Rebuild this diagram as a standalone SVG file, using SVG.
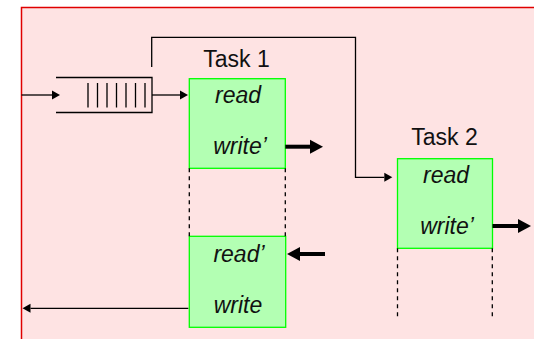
<svg xmlns="http://www.w3.org/2000/svg" width="534" height="339" viewBox="0 0 534 339">
<defs>
<marker id="thin" markerUnits="userSpaceOnUse" markerWidth="9" markerHeight="10" refX="0" refY="4.5" orient="auto" overflow="visible">
<path d="M0,0 L8,4.5 L0,9 z" fill="#000"/>
</marker>
<marker id="thick" markerUnits="userSpaceOnUse" markerWidth="14" markerHeight="15" refX="0" refY="7" orient="auto" overflow="visible">
<path d="M0,0 L13,7 L0,14 z" fill="#000"/>
</marker>
</defs>
<style>
.bg{fill:#FEE3E3}
.edge{stroke:#E00000;stroke-width:1.5;fill:none}
.box{fill:#B3FFB3;stroke:#00FF00;stroke-width:1.3}
.ln{stroke:#000;stroke-width:1.3;fill:none}
.thk{stroke:#000;stroke-width:4;fill:none}
.dash{stroke:#000;stroke-width:1.3;stroke-dasharray:4 4;fill:none}
.title{font-family:"Liberation Sans",Arial,sans-serif;font-size:23px;fill:#111;text-anchor:middle}
.op{font-family:"Liberation Sans",Arial,sans-serif;font-size:23px;font-style:italic;fill:#111;text-anchor:middle}
</style>
<rect class="bg" x="21" y="7.5" width="513" height="331.5"/>
<path class="edge" d="M21.5,339 V7.5 H534"/>

<g id="queue">
<path class="ln" d="M56,77.5 H152 V112.5 H56"/>
<path class="ln" d="M88,83 V107.5 M97.5,83 V107.5 M107,83 V107.5 M116.5,83 V107.5 M126,83 V107.5 M135.5,83 V107.5 M145,83 V107.5"/>
</g>

<g id="task1-label"><text class="title" x="236.5" y="66.5">Task 1</text></g>
<g id="task1-top">
<rect class="box" x="189.3" y="78.7" width="96" height="89.6"/>
<text class="op" x="238" y="103.3">read</text>
<text class="op" x="240" y="154.3">write’</text>
</g>
<g id="task1-bottom">
<rect class="box" x="189.3" y="236.3" width="96.4" height="91"/>
<text class="op" x="239" y="261.7">read’</text>
<text class="op" x="238" y="313.3">write</text>
</g>
<g id="task2-label"><text class="title" x="444.5" y="145">Task 2</text></g>
<g id="task2">
<rect class="box" x="397.5" y="158.7" width="95" height="89.6"/>
<text class="op" x="446" y="183.3">read</text>
<text class="op" x="447" y="234.3">write’</text>
</g>

<g id="connectors">
<line class="ln" x1="21.5" y1="95" x2="52" y2="95" marker-end="url(#thin)"/>
<line class="ln" x1="152" y1="95" x2="180" y2="95" marker-end="url(#thin)"/>
<path class="ln" d="M151.7,67 V37.3 H355.5 V177.3 H384.3" marker-end="url(#thin)"/>
<line class="thk" x1="285.3" y1="146.7" x2="310" y2="146.7" marker-end="url(#thick)"/>
<line class="thk" x1="492.5" y1="226" x2="518" y2="226" marker-end="url(#thick)"/>
<line class="thk" x1="325" y1="254" x2="300" y2="254" marker-end="url(#thick)"/>
<line class="ln" x1="188.3" y1="308.3" x2="30.5" y2="308.3" marker-end="url(#thin)"/>
<path class="dash" d="M189.3,168.3 V236.3 M285.3,168.3 V236.3"/>
<path class="dash" d="M397.5,248.3 V319 M492.3,248.3 V319"/>
</g>
</svg>
